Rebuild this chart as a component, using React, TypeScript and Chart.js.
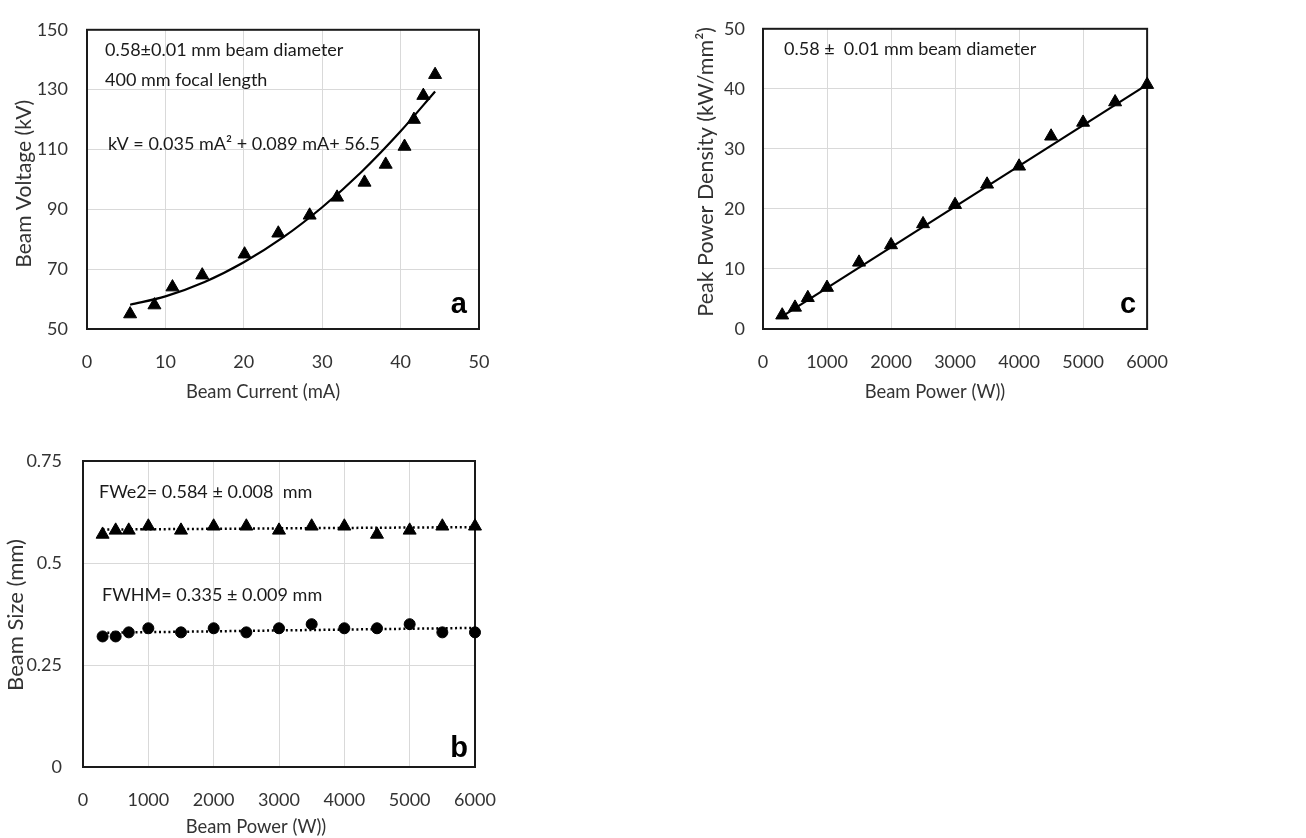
import React, { useEffect, useRef } from "react";
import { Chart, registerables } from "chart.js";
Chart.register(...registerables);

const FONT = "Lato, 'Open Sans', sans-serif";
const TEXT = "#333333";
const GRID = "#d9d9d9";

// ---- Panel a: Beam voltage vs beam current ----
const currentA = [5.5, 8.6, 10.9, 14.7, 20.1, 24.4, 28.4, 31.9, 35.4, 38.1, 40.5, 41.7, 42.9, 44.4];
const voltageA = [55, 58, 64, 68, 75, 82, 88, 94, 99, 105, 111, 120, 128, 135];
const fitCurrentA = [5.5, 10, 15, 20, 25, 30, 35, 40, 44.4];
const fitVoltageA = [58.1, 60.9, 65.7, 72.3, 80.6, 90.7, 102.5, 116.1, 129.4];
const xTicksA = [0, 10, 20, 30, 40, 50];
const yTicksA = [50, 70, 90, 110, 130, 150];

// ---- Panel c: Peak power density vs beam power ----
const powerC = [300, 500, 700, 1000, 1500, 2000, 2500, 3000, 3500, 4000, 4500, 5000, 5500, 6000];
const densityC = [2.3, 3.6, 5.2, 6.9, 11.1, 14.0, 17.5, 20.7, 24.1, 27.1, 32.1, 34.4, 37.8, 40.7];
const fitPowerC = [300, 6000];
const fitDensityC = [2.1, 40.7];
const xTicksC = [0, 1000, 2000, 3000, 4000, 5000, 6000];
const yTicksC = [0, 10, 20, 30, 40, 50];

// ---- Panel b: Beam size vs beam power ----
const powerB = [300, 500, 700, 1000, 1500, 2000, 2500, 3000, 3500, 4000, 4500, 5000, 5500, 6000];
const fwe2B = [0.57, 0.58, 0.58, 0.59, 0.58, 0.59, 0.59, 0.58, 0.59, 0.59, 0.57, 0.58, 0.59, 0.59];
const fwhmB = [0.32, 0.32, 0.33, 0.34, 0.33, 0.34, 0.33, 0.34, 0.35, 0.34, 0.34, 0.35, 0.33, 0.33];
const fitPowerB = [300, 6000];
const fitFwe2B = [0.582, 0.588];
const fitFwhmB = [0.329, 0.341];
const xTicksB = [0, 1000, 2000, 3000, 4000, 5000, 6000];
const yTicksB = [0, 0.25, 0.5, 0.75];

const pts = (xs: number[], ys: number[]) => xs.map((x, i) => ({ x, y: ys[i] }));

const decorPlugin = {
  id: "decor",
  beforeDatasetsDraw(chart: any) {
    const { ctx, chartArea: a } = chart;
    ctx.save();
    ctx.strokeStyle = "#1a1a1a";
    ctx.lineWidth = 2;
    ctx.strokeRect(a.left, a.top, a.right - a.left, a.bottom - a.top);
    ctx.restore();
  },
  afterDraw(chart: any) {
    const opts = chart.options.plugins.decor || {};
    const { ctx, chartArea: a } = chart;
    ctx.save();
    (opts.texts || []).forEach((t: any) => {
      ctx.font = `${t.size || 18}px ${FONT}`;
      ctx.fillStyle = "#1a1a1a";
      ctx.textAlign = "left";
      ctx.textBaseline = "middle";
      ctx.fillText(t.text, a.left + t.dx, a.top + t.dy);
    });
    if (opts.xTitle) {
      const T = opts.xTitle;
      ctx.font = `${T.size}px ${FONT}`;
      ctx.fillStyle = TEXT;
      ctx.textAlign = "center";
      ctx.textBaseline = "middle";
      ctx.fillText(T.text, a.left + T.dx, a.bottom + T.dy);
    }
    if (opts.yTitle) {
      const T = opts.yTitle;
      ctx.save();
      ctx.translate(a.left + T.dx, a.top + T.dy);
      ctx.rotate(-Math.PI / 2);
      ctx.font = `${T.size}px ${FONT}`;
      ctx.fillStyle = TEXT;
      ctx.textAlign = "center";
      ctx.textBaseline = "middle";
      ctx.fillText(T.text, 0, 0);
      ctx.restore();
    }
    if (opts.letter) {
      const L = opts.letter;
      ctx.font = `bold 29px 'Liberation Sans', Arial, sans-serif`;
      ctx.fillStyle = "#000";
      ctx.textAlign = "right";
      ctx.textBaseline = "alphabetic";
      ctx.fillText(L.text, a.right + L.dx, a.bottom + L.dy);
    }
    ctx.restore();
  },
};

function xScale(min: number, max: number, ticks: number[], height: number, tickPad: number) {
  return {
    type: "linear",
    min,
    max,
    afterBuildTicks: (s: any) => {
      s.ticks = ticks.map((v) => ({ value: v }));
    },
    afterFit: (s: any) => {
      s.height = height;
    },
    grid: { color: GRID, lineWidth: 1, drawTicks: false },
    border: { display: false },
    ticks: {
      color: TEXT,
      font: { family: FONT, size: 18 },
      padding: tickPad,
      maxRotation: 0,
      autoSkip: false,
      callback: (v: any) => String(v),
    },
    title: { display: false },
  };
}

function yScale(min: number, max: number, ticks: number[], width: number, tickPad: number) {
  return {
    type: "linear",
    min,
    max,
    afterBuildTicks: (s: any) => {
      s.ticks = ticks.map((v) => ({ value: v }));
    },
    afterFit: (s: any) => {
      s.width = width;
    },
    grid: { color: GRID, lineWidth: 1, drawTicks: false },
    border: { display: false },
    ticks: {
      color: TEXT,
      font: { family: FONT, size: 18 },
      padding: tickPad,
      autoSkip: false,
      callback: (v: any) => String(v),
    },
    title: { display: false },
  };
}

const triangleSet = (data: any[]) => ({
  data,
  showLine: false,
  pointStyle: "triangle",
  pointRadius: 7.5,
  pointBackgroundColor: "#000",
  pointBorderColor: "#000",
  pointBorderWidth: 1,
  clip: false,
});

function configA() {
  return {
    type: "scatter",
    data: {
      datasets: [
        {
          data: pts(fitCurrentA, fitVoltageA),
          showLine: true,
          borderColor: "#000",
          borderWidth: 2.2,
          pointRadius: 0,
          cubicInterpolationMode: "monotone",
        },
        triangleSet(pts(currentA, voltageA)),
      ],
    },
    options: {
      responsive: false,
      animation: false,
      devicePixelRatio: 1,
      layout: { padding: { top: 23, right: 41, left: 0, bottom: 0 } },
      plugins: {
        legend: { display: false },
        tooltip: { enabled: false },
        decor: {
          texts: [
            { text: "0.58±0.01 mm beam diameter", dx: 18, dy: 20 },
            { text: "400 mm focal length", dx: 18, dy: 50 },
            { text: "kV = 0.035 mA² + 0.089 mA+ 56.5", dx: 21, dy: 114 },
          ],
          xTitle: { text: "Beam Current (mA)", size: 18.4, dx: 176, dy: 63 },
          yTitle: { text: "Beam Voltage (kV)", size: 21, dx: -63, dy: 154 },
          letter: { text: "a", dx: -12, dy: -16 },
        },
      },
      scales: {
        x: xScale(0, 50, xTicksA, 81, 22),
        y: yScale(50, 150, yTicksA, 87, 19),
      },
    },
    plugins: [decorPlugin],
  };
}

function configC() {
  return {
    type: "scatter",
    data: {
      datasets: [
        {
          data: pts(fitPowerC, fitDensityC),
          showLine: true,
          borderColor: "#000",
          borderWidth: 2.2,
          pointRadius: 0,
        },
        triangleSet(pts(powerC, densityC)),
      ],
    },
    options: {
      responsive: false,
      animation: false,
      devicePixelRatio: 1,
      layout: { padding: { top: 23, right: 38, left: 0, bottom: 0 } },
      plugins: {
        legend: { display: false },
        tooltip: { enabled: false },
        decor: {
          texts: [{ text: "0.58 ±  0.01 mm beam diameter", dx: 21, dy: 20 }],
          xTitle: { text: "Beam Power (W))", size: 18.4, dx: 172, dy: 63 },
          yTitle: { text: "Peak Power Density (kW/mm²)", size: 21.5, dx: -57, dy: 143 },
          letter: { text: "c", dx: -11, dy: -16 },
        },
      },
      scales: {
        x: xScale(0, 6000, xTicksC, 81, 22),
        y: yScale(0, 50, yTicksC, 83, 18),
      },
    },
    plugins: [decorPlugin],
  };
}

function configB() {
  const dotted = (data: any[]) => ({
    data,
    showLine: true,
    borderColor: "#000",
    borderWidth: 2.5,
    borderDash: [2, 2.7],
    pointRadius: 0,
  });
  return {
    type: "scatter",
    data: {
      datasets: [
        dotted(pts(fitPowerB, fitFwe2B)),
        dotted(pts(fitPowerB, fitFwhmB)),
        triangleSet(pts(powerB, fwe2B)),
        {
          data: pts(powerB, fwhmB),
          showLine: false,
          pointStyle: "circle",
          pointRadius: 5.5,
          pointBackgroundColor: "#000",
          pointBorderColor: "#000",
          pointBorderWidth: 1,
          clip: false,
        },
      ],
    },
    options: {
      responsive: false,
      animation: false,
      devicePixelRatio: 1,
      layout: { padding: { top: 41, right: 45, left: 0, bottom: 0 } },
      plugins: {
        legend: { display: false },
        tooltip: { enabled: false },
        decor: {
          texts: [
            { text: "FWe2= 0.584 ± 0.008  mm", dx: 16, dy: 31 },
            { text: "FWHM= 0.335 ± 0.009 mm", dx: 19, dy: 134 },
          ],
          xTitle: { text: "Beam Power (W))", size: 18.4, dx: 173, dy: 60 },
          yTitle: { text: "Beam Size (mm)", size: 22, dx: -67, dy: 154 },
          letter: { text: "b", dx: -7, dy: -10 },
        },
      },
      scales: {
        x: xScale(0, 6000, xTicksB, 71, 22),
        y: yScale(0, 0.75, yTicksB, 83, 21),
      },
    },
    plugins: [decorPlugin],
  };
}

function Panel({ left, top, width, height, make }: any) {
  const ref = useRef<HTMLCanvasElement>(null);
  useEffect(() => {
    const chart = new Chart(ref.current as HTMLCanvasElement, make() as any);
    return () => chart.destroy();
  }, []);
  return (
    <canvas
      ref={ref}
      width={width}
      height={height}
      style={{ position: "absolute", left, top, width, height }}
    />
  );
}

export default function App() {
  return (
    <div style={{ position: "absolute", left: 0, top: 0, width: 1306, height: 838, background: "#fff", overflow: "hidden" }}>
      <Panel left={0} top={0} width={520} height={410} make={configA} />
      <Panel left={680} top={0} width={510} height={410} make={configC} />
      <Panel left={0} top={420} width={520} height={418} make={configB} />
    </div>
  );
}
